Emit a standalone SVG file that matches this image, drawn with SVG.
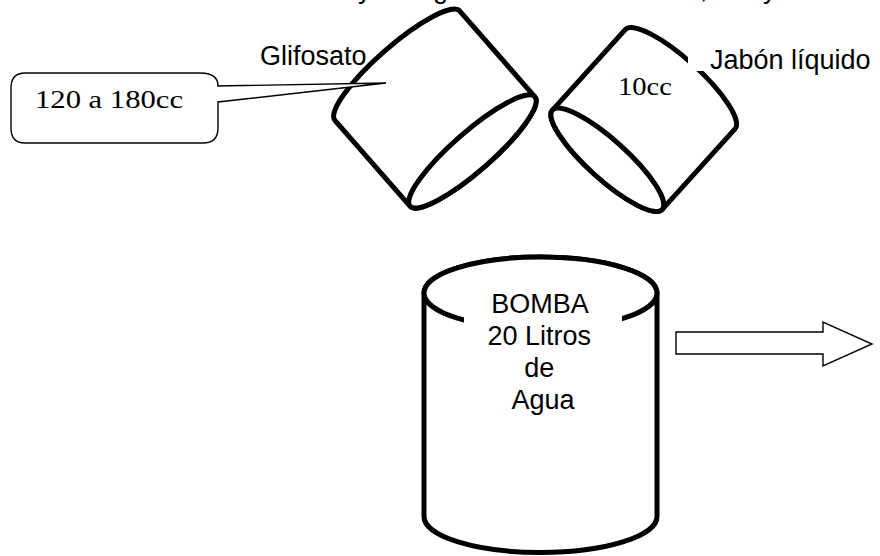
<svg xmlns="http://www.w3.org/2000/svg" width="880" height="556" viewBox="0 0 880 556">
<style>
.can{fill:#fff;stroke:#000;stroke-width:5;stroke-linejoin:round}
.thin{fill:#fff;stroke:#000;stroke-width:1.4}
.sans{font-family:"Liberation Sans",Arial,sans-serif;font-size:27px;fill:#000}
.serif{font-family:"Liberation Serif","Times New Roman",serif;fill:#000}
</style>
<rect width="880" height="556" fill="#fff"/>
<text class="sans" x="358 433 700 763" y="-2">yg,y</text>
<g id="glifosato">
<g transform="translate(434.9,108.6) rotate(-41.2)">
<path class="can" d="M-83,-57 A83,19.5 0 0 1 83,-57 L83,57 A83,19.5 0 0 1 -83,57 Z"/>
<ellipse class="can" cx="0" cy="57" rx="83" ry="19.5"/>
</g>
<text class="sans" x="260" y="65">Glifosato</text>
</g>
<g id="callout">
<path class="thin" d="M25,73 H200 Q218,73 218,86 L386,83 L218,102 V128 Q218,143 203,143 H25 Q11,143 11,128 V88 Q11,73 25,73 Z"/>
<text class="serif" x="35" y="108" font-size="25" textLength="148" lengthAdjust="spacingAndGlyphs">120 a 180cc</text>
</g>
<g id="jabon">
<g transform="translate(643.75,119.5) rotate(42.1)">
<path class="can" d="M-74,-54.3 A74,19.5 0 0 1 74,-54.3 L74,54.3 A74,19.5 0 0 1 -74,54.3 Z"/>
<ellipse class="can" cx="0" cy="54.3" rx="74" ry="19.5"/>
</g>
<text class="serif" x="618" y="95" font-size="26" textLength="54" lengthAdjust="spacingAndGlyphs">10cc</text>
<rect x="688" y="42" width="190" height="29" fill="#fff"/>
<text class="sans" x="710" y="69">Jabón líquido</text>
</g>
<g id="bomba">
<path class="can" d="M424,293 A116.5,36 0 0 1 657,293 V516.5 A116.5,36 0 0 1 424,516.5 Z"/>
<ellipse class="can" cx="540.5" cy="293" rx="116.5" ry="36"/>
<rect x="464" y="300" width="158" height="120" fill="#fff"/>
<text class="sans" text-anchor="middle">
<tspan x="543" y="313">BOMBA</tspan>
<tspan x="543" y="345">20 Litros</tspan>
<tspan x="543" y="377">de</tspan>
<tspan x="543" y="409">Agua</tspan>
</text>
</g>
<g id="connectors">
<path class="thin" d="M676,332 H823 V322 L872,344 L823,366 V354 H676 Z"/>
</g>
</svg>
